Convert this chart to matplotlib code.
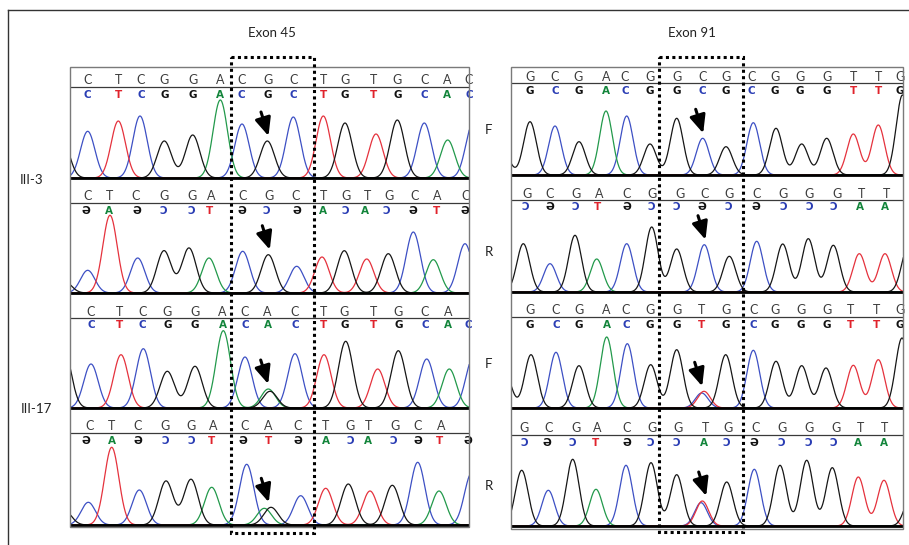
import numpy as np
import matplotlib.pyplot as plt
from matplotlib.patches import Rectangle

W_PX, H_PX = 909, 545

# ---- data (x = scan position in px from panel start,
# h = peak height in px above baseline, colour codes k/b/g/r) ----

# Exon 45, III-3, forward
l1_ref = "CTCGGACGCTGTGCAC"
l1_ref_x = [17.7, 48.3, 71, 94.3, 122.7, 150.3, 171.7, 198, 223.3, 253.3, 275, 304, 327.3, 354.3, 377, 399]
l1_call = l1_ref
l1_call_x = l1_ref_x
l1_peak_x = [-8, 17.7, 48.3, 70, 94.3, 122.7, 150.3, 172, 197.3, 223.3, 253.3, 275, 306, 327.3, 354.3, 377.7, 403]
l1_peak_h = [40, 46.7, 57, 62, 37, 43, 78, 54, 37, 61, 62, 55, 44, 58, 55, 38, 55]
l1_peak_col = "kbrbkkgbkbrkrkbgb"

# Exon 45, III-3, reverse
l2_ref = "CTCGGACGCTGTGCAC"
l2_ref_x = [17.7, 40, 66, 94.3, 121.7, 141.7, 172.7, 199.3, 225.7, 254, 275.7, 297.3, 319, 344.3, 367.3, 396]
l2_call = "GAGCCTGCGACACGTG"
l2_call_x = [16, 39.3, 66.7, 93.3, 121.7, 140, 171.7, 196, 227.3, 253.3, 275.7, 295, 316.7, 343.3, 366.7, 395]
l2_peak_x = [-6, 17.7, 40, 67.7, 94, 119, 139, 172.7, 198.3, 226.7, 252, 274.3, 296.7, 318.3, 343.3, 363.3, 395]
l2_peak_h = [12, 22.7, 77.7, 35, 42.3, 45, 35, 41.7, 38.3, 26.7, 36, 42.3, 34, 39.3, 61, 33.3, 49.3]
l2_peak_col = "kbrbkkgbkbrkrkbgb"

# Exon 45, III-17, forward
l3_ref = "CTCGGACACTGTGCA"
l3_ref_x = [21, 50, 72.7, 97.3, 125, 152.7, 175, 197.7, 225, 253.3, 274.3, 304, 328.3, 355, 378.3]
l3_call = "CTCGGACACTGTGCAC"
l3_call_x = l3_ref_x + [398.3]
l3_peak_x = [-6, 21, 51, 73.3, 97.3, 125, 153.3, 175, 198.3, 200, 225, 254, 275.7, 307.7, 328.3, 356.7, 379.3, 403]
l3_peak_h = [58, 44, 53.3, 59.3, 36.7, 41.7, 77.3, 51, 19, 16.7, 54.3, 53.3, 66.7, 39, 57.3, 49, 39, 50]
l3_peak_col = "kbrbkkgbgkbrkrkbgb"

# Exon 45, III-17, reverse
l4_ref = "CTCGGACACTGTGCA"
l4_ref_x = [19.3, 41.7, 67.7, 95, 121, 143.3, 174.3, 198.3, 227.7, 255.7, 280, 298.3, 325, 347.7, 371]
l4_call = "GAGCCTGTGACACGTG"
l4_call_x = [16, 41.7, 67.7, 95, 121, 141.7, 172.7, 198.3, 227.7, 255.7, 280, 298.3, 323.3, 347.7, 369, 398.3]
l4_peak_x = [-6, 18.3, 41.7, 69.3, 96, 121, 141.7, 176.7, 194.3, 201, 230.7, 255.7, 278.3, 300, 322.3, 347.7, 369, 401.7]
l4_peak_h = [15, 22.7, 77.7, 35, 44, 45.7, 37.7, 60.7, 16.7, 17.7, 29.3, 36.7, 41, 34, 39.7, 62.7, 34, 52]
l4_peak_col = "kbrbkkgbgkbrkrkbgb"

# Exon 91, III-3, forward
r1_ref = "GCGACGGCGCGGGTTG"
r1_ref_x = [19, 44, 67.3, 95, 114, 139, 165.7, 191.7, 215, 240.7, 264, 289, 315.7, 342.3, 367.3, 389]
r1_call = r1_ref
r1_call_x = r1_ref_x
r1_peak_x = [-8, 19, 44, 68, 95, 115.7, 139, 165.7, 191.7, 215, 242.3, 265, 290.7, 315.7, 342.3, 367.3, 391.5]
r1_peak_h = [25, 53.3, 49, 33.3, 64, 59, 31, 56.7, 36.7, 28.3, 52.3, 46.7, 31, 36.7, 41, 50, 80]
r1_peak_col = "kkbkgbkkbkbkkkrrk"

# Exon 91, III-3, reverse
r2_ref = "GCGACGGCGCGGGTT"
r2_ref_x = [15.7, 39, 65, 88.3, 115.7, 140.7, 169, 194, 218.3, 245.7, 271.7, 298.3, 325.7, 350.7, 375.7]
r2_call = "CGCTGCCGCGCCCAA"
r2_call_x = [14, 39, 64, 86.3, 115.7, 140.7, 165.7, 190.7, 217.3, 245, 272.3, 298.3, 322.3, 349, 374]
r2_peak_x = [12.3, 39, 64, 85.7, 115.7, 140.7, 165.7, 193.3, 218.3, 245.7, 271.7, 297.3, 322.3, 348.3, 374, 397]
r2_peak_h = [48.3, 28.3, 56.7, 33, 48.3, 65, 43, 47.3, 35.7, 50.7, 48, 53.3, 46.7, 38.3, 38.3, 45]
r2_peak_col = "kbkgbkkbkbkkkrrk"

# Exon 91, III-17, forward
r3_ref = "GCGACGGTGCGGGTTG"
r3_ref_x = [19, 45, 68, 95.7, 115, 139, 165.7, 190.7, 215, 242.3, 264, 290, 315.7, 340, 365.7, 389]
r3_call = r3_ref
r3_call_x = r3_ref_x
r3_peak_x = [-6, 20, 45, 68, 95.7, 116.3, 139.7, 165.7, 190.7, 193, 214.7, 242.3, 265, 290.7, 315, 342.3, 367.3, 391]
r3_peak_h = [35, 53.3, 55.7, 42.3, 71, 64.3, 43.3, 58.3, 15, 16.7, 53.3, 57.7, 46.7, 42.3, 40, 42.7, 48.3, 70]
r3_peak_col = "kkbkgbkkbrkbkkkrrk"

# Exon 91, III-17, reverse
r4_ref = "GCGACGGTGCGGGTT"
r4_ref_x = [13, 37.3, 65, 86.7, 115.7, 140.7, 167.3, 194.7, 217.3, 245, 270.7, 298.3, 325, 350, 374]
r4_call = "CGCTGCCACGCCCAA"
r4_call_x = [13, 35.7, 61.7, 84.7, 115.7, 139, 165, 193, 215.7, 243, 270.7, 297.3, 322.3, 347.3, 373]
r4_peak_x = [10.7, 37.3, 61.7, 85, 115, 140, 165.7, 190, 191.3, 215.7, 243.3, 269, 295.7, 321.3, 347.3, 373, 400]
r4_peak_h = [55.7, 35.7, 66.7, 36.7, 60.7, 63.3, 51.3, 23.3, 25, 44, 56.7, 60.7, 65.7, 58.3, 49, 45.7, 30]
r4_peak_col = "kbkgbkkbrkbkkkrrk"

TRACE = {'b': '#3d50c4', 'r': '#e5323d', 'k': '#161616', 'g': '#22994b'}
CALL = {'C': '#2a3db4', 'T': '#e0232c', 'G': '#111111', 'A': '#13853b'}
MIRROR = {'G': '\u018f', 'C': '\u0186', 'A': 'A', 'T': 'T'}
LABEL_FONT = ['Lato', 'DejaVu Sans']


def px_axes(fig, x0, x1, top, bottom):
    return fig.add_axes([x0 / W_PX, 1 - bottom / H_PX, (x1 - x0) / W_PX, (bottom - top) / H_PX])


def draw_panel(fig, box, ref, ref_x, call, call_x, pk_x, pk_h, pk_col, mirrored, sigma):
    x0, x1, top, sep, base = box
    width = x1 - x0
    ax = px_axes(fig, x0, x1, top, base + 3)
    ax.set_xlim(0, width)
    ax.set_ylim(-3, base - top)
    ax.axis('off')

    pk_x = np.asarray(pk_x, float)
    pk_h = np.asarray(pk_h, float)
    xs = np.linspace(-25, width + 25, 1500)
    for c in 'bgrk':
        m = np.array([ch == c for ch in pk_col])
        if not m.any():
            continue
        y = (pk_h[m][:, None] * np.exp(-0.5 * ((xs[None, :] - pk_x[m][:, None]) / sigma) ** 2)).sum(0)
        ax.plot(xs, y, color=TRACE[c], lw=0.9, zorder=2)

    ax.axhline(0, color='black', lw=2.0, zorder=4)
    sep_h = base - sep
    ax.axhline(sep_h, color='#3a3a3a', lw=0.9, zorder=4)

    for ch, x in zip(ref, ref_x):
        t = ax.text(x, sep_h + 6.5, ch, ha='center', va='center', fontsize=9,
                    color='#3c3c3c', family=LABEL_FONT)
        t.set_clip_path(ax.patch)
    for ch, x in zip(call, call_x):
        s = MIRROR[ch] if mirrored else ch
        t = ax.text(x, sep_h - 7.5, s, ha='center', va='center', fontsize=7.5,
                    fontweight='bold', color=CALL[ch], family=['DejaVu Sans'])
        t.set_clip_path(ax.patch)

    # arrow on the variant position (8th base of the shown stretch)
    xa = ref_x[7]
    ha = pk_h[np.abs(pk_x - xa) < 8].max()
    ax.annotate('', xy=(xa + 0.5, ha + 5), xytext=(xa - 7, ha + 29),
                arrowprops=dict(arrowstyle='-|>,head_width=0.4,head_length=0.9',
                                color='black', lw=2.2, shrinkA=0, shrinkB=0,
                                mutation_scale=12), zorder=6)
    return ax


fig = plt.figure(figsize=(W_PX / 100, H_PX / 100), dpi=100)

left_boxes = [(70, 469, 67, 87, 178), (70, 469, 178, 203, 293),
              (70, 469, 294, 318, 408), (70, 469, 409, 433, 525)]
right_boxes = [(511, 903, 67, 83, 175), (511, 903, 176, 200, 292),
               (511, 903, 293, 317, 408), (511, 903, 409, 435, 526)]

panels = [
    (left_boxes[0], l1_ref, l1_ref_x, l1_call, l1_call_x, l1_peak_x, l1_peak_h, l1_peak_col, False, 7.2),
    (left_boxes[1], l2_ref, l2_ref_x, l2_call, l2_call_x, l2_peak_x, l2_peak_h, l2_peak_col, True, 7.2),
    (left_boxes[2], l3_ref, l3_ref_x, l3_call, l3_call_x, l3_peak_x, l3_peak_h, l3_peak_col, False, 7.2),
    (left_boxes[3], l4_ref, l4_ref_x, l4_call, l4_call_x, l4_peak_x, l4_peak_h, l4_peak_col, True, 7.2),
    (right_boxes[0], r1_ref, r1_ref_x, r1_call, r1_call_x, r1_peak_x, r1_peak_h, r1_peak_col, False, 6.4),
    (right_boxes[1], r2_ref, r2_ref_x, r2_call, r2_call_x, r2_peak_x, r2_peak_h, r2_peak_col, True, 6.4),
    (right_boxes[2], r3_ref, r3_ref_x, r3_call, r3_call_x, r3_peak_x, r3_peak_h, r3_peak_col, False, 6.4),
    (right_boxes[3], r4_ref, r4_ref_x, r4_call, r4_call_x, r4_peak_x, r4_peak_h, r4_peak_col, True, 6.4),
]
for p in panels:
    draw_panel(fig, *p)

# overlay in pixel coordinates: frames, dotted boxes, labels
ov = fig.add_axes([0, 0, 1, 1], zorder=10)
ov.set_xlim(0, W_PX)
ov.set_ylim(H_PX, 0)
ov.axis('off')
ov.patch.set_alpha(0)

ov.plot([8, 8], [10, H_PX], color='#333333', lw=1)
ov.plot([8, W_PX], [10, 10], color='#333333', lw=1)

for x0, x1, y0, y1 in [(70, 469, 67, 527), (511, 903, 67, 529)]:
    ov.add_patch(Rectangle((x0, y0), x1 - x0, y1 - y0, fill=False, ec='#7a7a7a', lw=1))

for x0, x1, y0, y1 in [(230.5, 314, 57, 533), (658.5, 743, 57, 532)]:
    ov.add_patch(Rectangle((x0, y0), x1 - x0, y1 - y0, fill=False, ec='black',
                           lw=2.2, ls=(0, (1, 1.1))))

ov.text(272, 33, 'Exon 45', ha='center', va='center', fontsize=9.5, family=LABEL_FONT, color='#222222')
ov.text(692, 33, 'Exon 91', ha='center', va='center', fontsize=9.5, family=LABEL_FONT, color='#222222')
ov.text(32, 180, 'III-3', ha='center', va='center', fontsize=9.5, family=LABEL_FONT, color='#222222')
ov.text(36, 409, 'III-17', ha='center', va='center', fontsize=9.5, family=LABEL_FONT, color='#222222')
for lab, y in [('F', 130), ('R', 252), ('F', 364), ('R', 486)]:
    ov.text(489, y, lab, ha='center', va='center', fontsize=9.5, family=LABEL_FONT, color='#222222')

fig.savefig('out.png', dpi=100)
